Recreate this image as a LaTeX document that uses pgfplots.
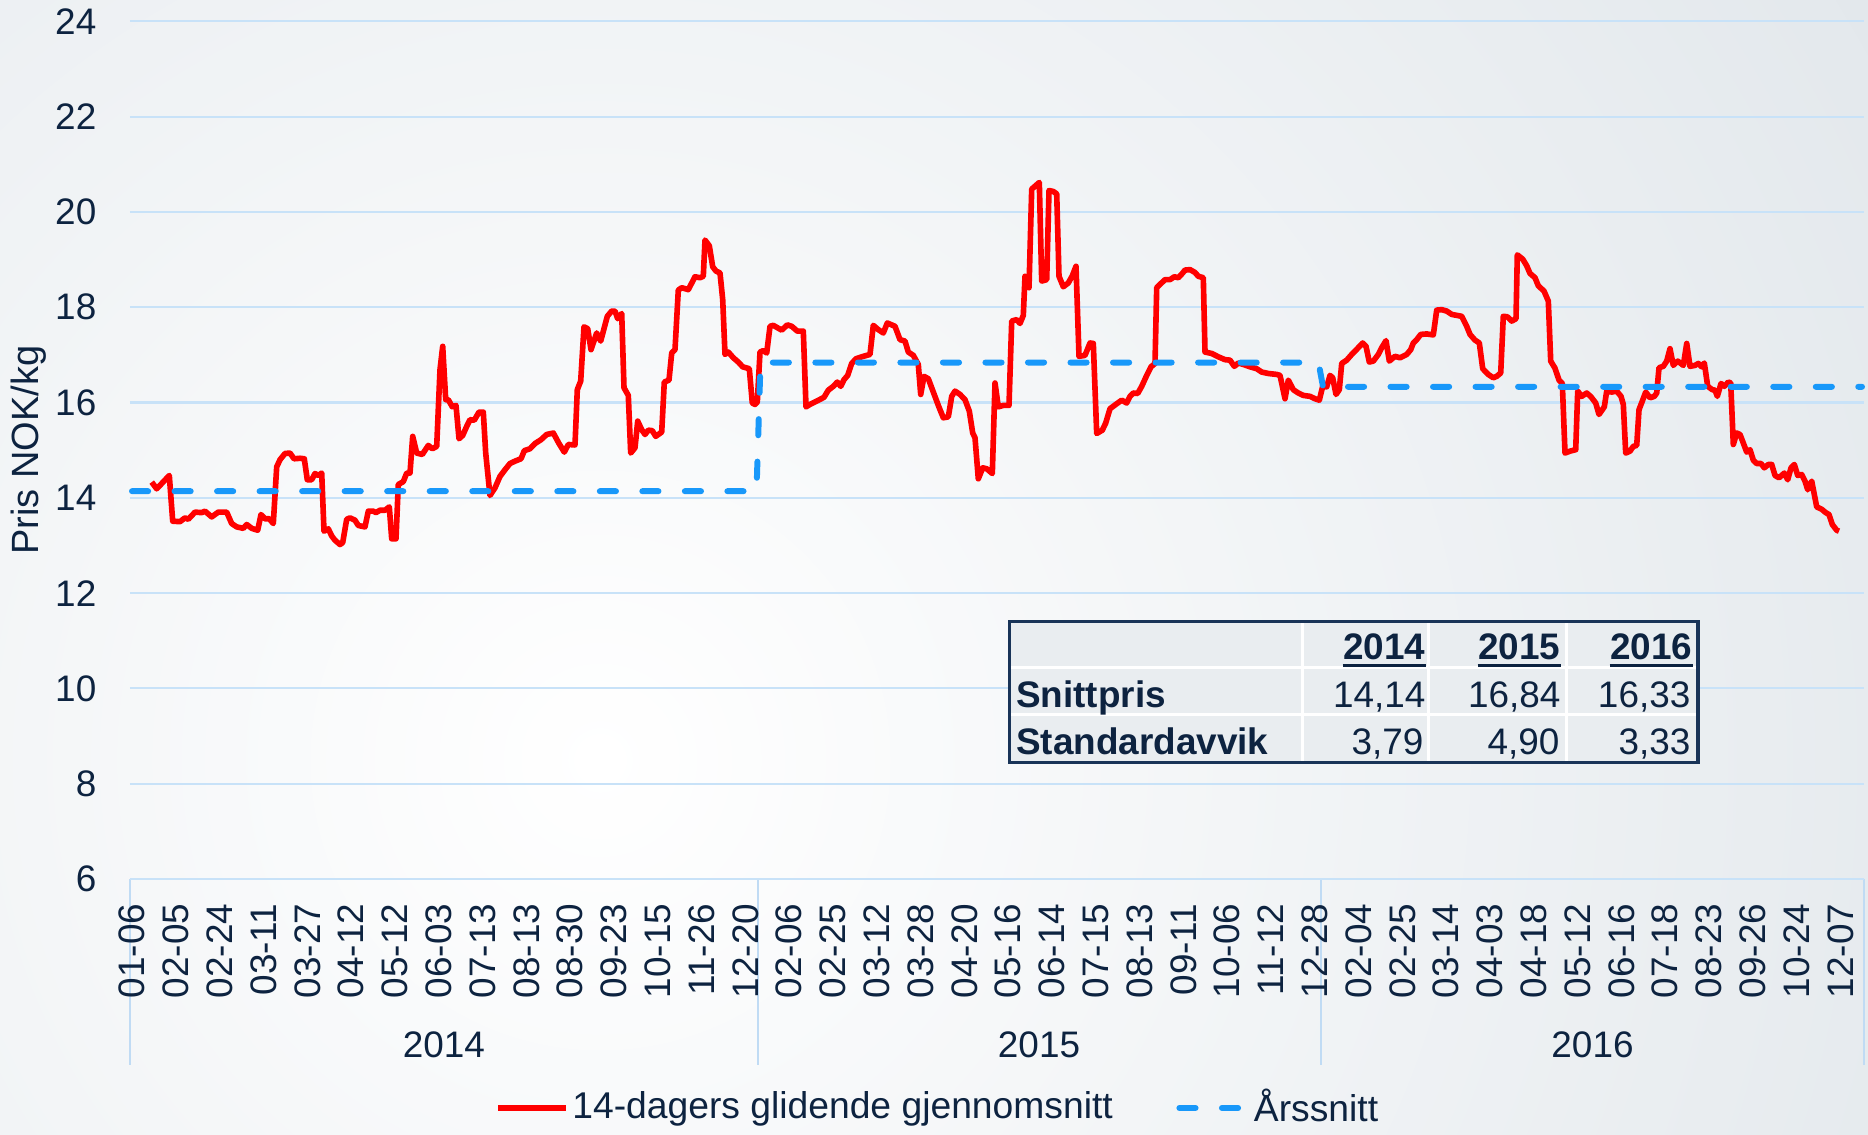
\documentclass[border=0pt]{standalone}
\usepackage{fontspec}
\setmainfont{Liberation Sans}
\usepackage{pgfplots}
\pgfplotsset{compat=1.18}

\definecolor{txt}{RGB}{13,35,64}
\definecolor{gridblue}{RGB}{200,226,248}
\definecolor{sepblue}{RGB}{192,219,244}
\definecolor{pricered}{RGB}{255,0,0}
\definecolor{avgblue}{RGB}{24,152,250}
\definecolor{tblborder}{RGB}{25,52,88}
\definecolor{tblfill}{RGB}{233,237,240}
\definecolor{bgouter}{RGB}{200,210,218}

\begin{document}
\begin{tikzpicture}
\useasboundingbox (-1.30,-2.56) rectangle (17.38,8.79);
% background glow
\begin{scope}
  \clip (-1.30,-2.56) rectangle (17.38,8.79);
  \shade[inner color=white, outer color=bgouter] (4.70,1.19) circle (29cm);
\end{scope}
% year group separators below the axis (drawn first so the tick labels sit on top)
\foreach \sx in {0,6.276,11.91,17.34}
  \draw[sepblue, line width=0.6pt] (\sx,0) -- (\sx,-1.86);

\begin{axis}[
  at={(0,0)}, anchor=south west,
  width=17.34cm, height=8.576cm, scale only axis,
  xmin=130, xmax=1864, ymin=6, ymax=24,
  clip=false,
  axis line style={draw=none},
  major tick length=0pt,
  ytick={6,8,...,24},
  xtick={132.2,176.0,219.8,263.6,307.4,351.2,395.0,438.8,482.6,526.4,570.2,614.0,657.8,701.6,745.4,789.2,833.0,876.8,920.6,964.4,1008.2,1052.0,1095.8,1139.6,1183.4,1227.2,1271.0,1314.8,1358.6,1402.4,1446.2,1490.0,1533.8,1577.6,1621.4,1665.2,1709.0,1752.8,1796.6,1840.4},
  xticklabels={01-06,02-05,02-24,03-11,03-27,04-12,05-12,06-03,07-13,08-13,08-30,09-23,10-15,11-26,12-20,
    02-06,02-25,03-12,03-28,04-20,05-16,06-14,07-15,08-13,09-11,10-06,11-12,12-28,
    02-04,02-25,03-14,04-03,04-18,05-12,06-16,07-18,08-23,09-26,10-24,12-07},
  ymajorgrids,
  grid style={gridblue, line width=0.6pt},
  /pgf/number format/assume math mode=true,
  tick label style={font=\fontsize{10.5}{12.6}\selectfont, text=txt},
  yticklabel style={anchor=east, inner sep=0pt},
  yticklabel shift=0.33cm,
  xticklabel style={rotate=90, anchor=east, inner sep=0pt},
  xticklabel shift=0.24cm,
  ylabel={Pris NOK/kg},
  every axis y label/.style={at={(axis description cs:-0.0582,0.5)}, rotate=90, anchor=center, font=\fontsize{10.8}{13}\selectfont, text=txt},
  legend style={at={(axis description cs:0.2102,-0.2670)}, anchor=west, draw=none, fill=none, inner sep=0pt,
    legend columns=2, font=\fontsize{10.6}{12.6}\selectfont, nodes={inner sep=1pt, text=txt},
    /tikz/every even column/.append style={column sep=0.6cm}},
  legend image code/.code={\draw[#1] (0cm,0cm) -- (0.68cm,0cm);},
]
% 14-day moving average
\addplot[pricered, line width=1.6pt, line join=round, no markers] coordinates {
(151.7,14.33) (156.7,14.19) (161.7,14.30) (169.3,14.47) (172.7,13.51) (180.0,13.50) (185.0,13.58) (188.3,13.55)
(195.0,13.70) (201.7,13.69) (205.0,13.72) (211.7,13.60) (218.3,13.70) (226.7,13.70) (231.7,13.46) (236.7,13.39)
(243.3,13.36) (246.7,13.44) (251.7,13.36) (257.7,13.32) (261.0,13.65) (265.0,13.56) (269.3,13.56) (273.3,13.46)
(276.7,14.65) (280.0,14.80) (285.0,14.93) (290.0,14.94) (294.0,14.82) (300.0,14.83) (304.3,14.82) (307.3,14.38)
(311.7,14.38) (315.0,14.51) (318.3,14.47) (321.7,14.52) (324.0,13.30) (328.3,13.35) (331.7,13.20) (335.0,13.11)
(340.0,13.02) (342.7,13.06) (346.7,13.55) (350.0,13.58) (355.0,13.53) (358.3,13.42) (365.0,13.39) (368.3,13.72)
(373.3,13.72) (376.0,13.69) (380.0,13.74) (385.0,13.74) (389.3,13.81) (391.7,13.14) (396.0,13.14) (398.3,14.28)
(403.3,14.34) (406.7,14.52) (410.0,14.52) (412.7,15.29) (416.7,14.94) (422.3,14.91) (428.3,15.10) (432.3,15.03)
(436.7,15.08) (440.0,16.69) (442.7,17.18) (445.7,16.06) (448.3,16.06) (452.3,15.91) (456.0,15.94) (459.0,15.24)
(462.7,15.31) (466.7,15.50) (470.0,15.64) (474.3,15.63) (479.0,15.80) (483.3,15.80) (485.7,14.94) (490.0,14.05)
(495.0,14.21) (500.0,14.45) (505.0,14.59) (510.0,14.72) (515.0,14.77) (521.0,14.82) (524.3,14.99) (530.0,15.03)
(535.0,15.14) (541.0,15.22) (546.7,15.33) (553.3,15.36) (559.0,15.14) (564.3,14.96) (568.3,15.12) (575.0,15.11)
(577.3,16.27) (580.7,16.45) (584.0,17.59) (587.7,17.55) (591.0,17.11) (596.7,17.46) (600.7,17.29) (607.3,17.81)
(611.7,17.92) (615.0,17.92) (617.7,17.76) (621.7,17.87) (624.0,16.31) (628.3,16.15) (630.7,14.94) (635.0,15.05)
(637.7,15.61) (641.7,15.43) (645.0,15.33) (648.3,15.42) (652.3,15.41) (655.7,15.29) (661.7,15.38) (664.3,16.43)
(669.0,16.47) (671.7,17.04) (675.0,17.11) (678.3,18.36) (681.7,18.41) (688.3,18.37) (695.0,18.64) (700.0,18.62)
(703.3,18.65) (705.0,19.41) (709.3,19.29) (712.7,18.85) (716.0,18.76) (720.0,18.72) (722.7,18.16) (725.0,17.01)
(728.3,17.06) (733.3,16.94) (738.3,16.85) (742.7,16.75) (749.3,16.71) (752.3,15.99) (755.0,15.96) (757.3,16.01)
(760.0,17.06) (763.3,17.09) (766.7,17.04) (770.0,17.60) (773.3,17.62) (781.7,17.52) (787.3,17.63) (791.7,17.60)
(797.3,17.50) (803.3,17.50) (806.0,15.91) (810.0,15.96) (816.7,16.03) (824.0,16.11) (828.3,16.26) (833.3,16.34)
(837.3,16.43) (840.7,16.34) (844.0,16.48) (847.7,16.57) (851.7,16.82) (856.0,16.92) (861.7,16.96) (870.0,17.01)
(873.3,17.62) (878.3,17.53) (883.3,17.46) (887.3,17.67) (895.0,17.60) (900.0,17.32) (905.0,17.29) (908.3,17.06)
(913.3,16.99) (918.3,16.80) (920.7,16.17) (924.0,16.55) (928.3,16.50) (933.3,16.22) (938.3,15.94) (943.3,15.68)
(948.3,15.70) (951.7,16.13) (955.0,16.24) (960.0,16.17) (965.0,16.06) (969.3,15.82) (972.7,15.36) (975.0,15.26)
(978.3,14.40) (982.7,14.63) (986.7,14.61) (992.3,14.51) (995.0,16.41) (998.3,15.91) (1003.3,15.94) (1009.0,15.94)
(1011.7,17.71) (1016.7,17.74) (1020.0,17.66) (1023.3,17.83) (1025.0,18.65) (1029.0,18.41) (1031.7,20.48) (1035.0,20.54)
(1039.3,20.62) (1041.7,18.55) (1046.7,18.58) (1049.0,20.45) (1053.3,20.43) (1056.7,20.38) (1059.0,18.65) (1063.3,18.43)
(1068.3,18.51) (1072.3,18.66) (1076.0,18.86) (1079.0,16.97) (1085.0,16.99) (1090.0,17.25) (1093.3,17.24) (1096.7,15.35)
(1102.3,15.42) (1105.7,15.57) (1110.0,15.87) (1115.7,15.96) (1121.7,16.05) (1126.7,15.99) (1130.0,16.13) (1133.3,16.20)
(1137.7,16.19) (1141.7,16.34) (1146.7,16.57) (1151.0,16.75) (1155.0,16.82) (1156.7,18.41) (1161.0,18.50) (1165.0,18.58)
(1170.0,18.58) (1174.3,18.64) (1178.3,18.62) (1182.3,18.71) (1185.0,18.78) (1190.0,18.79) (1195.0,18.73) (1198.3,18.65)
(1203.3,18.62) (1205.0,17.06) (1211.7,17.03) (1218.3,16.96) (1225.0,16.90) (1230.0,16.89) (1234.3,16.76) (1238.3,16.83)
(1243.3,16.80) (1250.0,16.75) (1256.7,16.71) (1261.7,16.64) (1268.3,16.61) (1276.7,16.59) (1280.0,16.57) (1285.0,16.08)
(1288.3,16.47) (1293.3,16.27) (1298.3,16.20) (1303.3,16.15) (1310.0,16.13) (1315.0,16.08) (1319.3,16.05) (1322.7,16.34)
(1326.7,16.33) (1330.0,16.57) (1332.7,16.52) (1336.0,16.17) (1339.3,16.27) (1341.7,16.82) (1346.7,16.89) (1351.7,17.01)
(1357.3,17.13) (1362.7,17.25) (1366.0,17.18) (1369.3,16.85) (1373.3,16.87) (1378.3,17.01) (1381.7,17.15) (1386.0,17.30)
(1389.3,16.87) (1395.0,16.97) (1400.0,16.94) (1406.7,17.01) (1410.7,17.11) (1413.3,17.25) (1416.7,17.32) (1420.7,17.43)
(1426.7,17.44) (1433.3,17.42) (1436.7,17.94) (1441.7,17.95) (1446.7,17.92) (1451.7,17.85) (1456.7,17.83) (1461.7,17.81)
(1466.7,17.60) (1470.0,17.43) (1475.0,17.31) (1479.3,17.25) (1482.7,16.71) (1488.3,16.59) (1493.3,16.52) (1496.7,16.55)
(1500.7,16.62) (1503.3,17.81) (1507.3,17.80) (1511.7,17.71) (1516.0,17.76) (1517.3,19.10) (1522.7,19.01) (1526.7,18.87)
(1530.0,18.71) (1535.0,18.62) (1538.3,18.45) (1544.0,18.34) (1548.3,18.13) (1550.7,16.87) (1555.0,16.72) (1559.0,16.47)
(1562.3,16.40) (1565.0,14.94) (1570.0,14.98) (1575.7,15.01) (1577.7,16.24) (1581.7,16.13) (1586.7,16.20) (1591.0,16.12)
(1595.7,15.99) (1599.0,15.75) (1604.3,15.91) (1606.7,16.24) (1611.7,16.22) (1616.7,16.24) (1621.0,16.13) (1623.3,15.96)
(1625.7,14.94) (1630.0,14.98) (1633.3,15.08) (1636.7,15.10) (1639.0,15.85) (1642.3,16.03) (1645.7,16.22) (1650.0,16.10)
(1654.3,16.13) (1656.7,16.20) (1659.0,16.73) (1663.3,16.76) (1666.7,16.87) (1670.0,17.13) (1673.3,16.78) (1677.7,16.87)
(1683.3,16.78) (1686.7,17.24) (1690.0,16.76) (1695.0,16.78) (1698.3,16.82) (1701.7,16.75) (1704.3,16.83) (1707.7,16.34)
(1712.3,16.27) (1715.0,16.26) (1717.3,16.13) (1721.0,16.40) (1724.3,16.34) (1728.3,16.43) (1730.7,16.41) (1733.3,15.12)
(1736.7,15.36) (1740.0,15.33) (1743.3,15.15) (1746.7,14.96) (1750.0,15.01) (1753.3,14.79) (1756.7,14.72) (1761.0,14.72)
(1764.3,14.63) (1768.3,14.70) (1771.7,14.70) (1775.0,14.47) (1779.0,14.42) (1784.3,14.52) (1787.7,14.38) (1791.0,14.63)
(1794.3,14.70) (1797.7,14.47) (1801.7,14.49) (1805.0,14.35) (1807.7,14.17) (1811.7,14.35) (1816.7,13.81) (1821.7,13.76)
(1825.7,13.69) (1829.0,13.65) (1832.3,13.44) (1836.7,13.32) (1839.0,13.30)
};
\addlegendentry{14-dagers glidende gjennomsnitt}
% yearly average
\addplot[avgblue, line width=1.7pt, line cap=round, dash pattern=on 4.6pt off 7.5pt, no markers] coordinates {
(132,14.14) (756.5,14.14) (760.5,16.84) (1318.5,16.84) (1323,16.33) (1862,16.33)
};
\addlegendentry{Årssnitt}

% year group labels
\node[yshift=-1.66cm, font=\fontsize{10.5}{12.6}\selectfont, text=txt] at (axis cs:443.8,6) {2014};
\node[yshift=-1.66cm, font=\fontsize{10.5}{12.6}\selectfont, text=txt] at (axis cs:1039,6) {2015};
\node[yshift=-1.66cm, font=\fontsize{10.5}{12.6}\selectfont, text=txt] at (axis cs:1592.5,6) {2016};
\end{axis}

% summary table (pixel grid of the reference)
\begin{scope}[shift={(-1.30cm,8.79cm)}, x=0.01cm, y=-0.01cm, every node/.style={inner sep=0pt, text=txt, font=\fontsize{10.5}{12.6}\selectfont}]
  \fill[tblfill] (1010,622) rectangle (1699,763);
  \draw[white, line width=0.8pt] (1010,668) -- (1699,668) (1010,715) -- (1699,715)
    (1303,622) -- (1303,763) (1429,622) -- (1429,763) (1567,622) -- (1567,763);
  \draw[tblborder, line width=0.9pt] (1010,622) rectangle (1699,763);
  \node[anchor=base east, font=\fontsize{10.5}{12.6}\selectfont\bfseries] (h1) at (1427,660) {2014};
  \node[anchor=base east, font=\fontsize{10.5}{12.6}\selectfont\bfseries] (h2) at (1562,660) {2015};
  \node[anchor=base east, font=\fontsize{10.5}{12.6}\selectfont\bfseries] (h3) at (1694,660) {2016};
  \foreach \h in {h1,h2,h3}
    \draw[txt, line width=0.85pt] ([yshift=-0.055cm]\h.base west) -- ([yshift=-0.055cm]\h.base east);
  \node[anchor=base west, font=\fontsize{10.5}{12.6}\selectfont\bfseries] at (1016,708) {Snittpris};
  \node[anchor=base west, font=\fontsize{10.5}{12.6}\selectfont\bfseries] at (1016,755) {Standardavvik};
  \node[anchor=base east] at (1427,708) {14,14};
  \node[anchor=base east] at (1562,708) {16,84};
  \node[anchor=base east] at (1692,708) {16,33};
  \node[anchor=base east] at (1425,755) {3,79};
  \node[anchor=base east] at (1561,755) {4,90};
  \node[anchor=base east] at (1692,755) {3,33};
\end{scope}
\end{tikzpicture}
\end{document}
